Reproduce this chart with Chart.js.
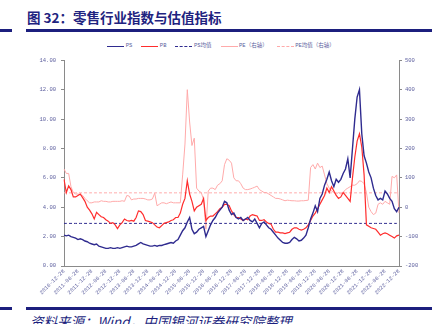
<!DOCTYPE html>
<html lang="zh">
<head>
<meta charset="UTF-8" />
<title>零售行业指数与估值指标</title>
<script src="https://cdn.jsdelivr.net/npm/chart.js"></script>
<style>
  html, body { margin: 0; padding: 0; background: #fff; }
  body { width: 442px; height: 324px; position: relative; overflow: hidden; }
  .title { position: absolute; left: 27px; top: 7px; font: bold 13.5px "Noto Sans CJK SC", sans-serif; color: #1f2380; white-space: nowrap; }
  .rule { position: absolute; height: 2.5px; background: #1c1f7e; }
  .source { position: absolute; left: 30px; top: 311px; font: italic 13.5px "Noto Sans CJK SC", sans-serif; color: #1c1f7e; white-space: nowrap; }
  #legend { position: absolute; left: 0; top: 42px; width: 442px; display: flex; justify-content: center;
            font: 5.5px "Liberation Mono", "Noto Sans CJK SC", monospace; color: #5d5f9e; line-height: 8px; }
  #legend .item { display: flex; align-items: center; margin: 0 4.5px; }
  #legend .sw { width: 17px; height: 0; margin-right: 1.5px; }
  #wrap { position: absolute; left: 0; top: 52px; width: 442px; height: 250px; }
</style>
</head>
<body>
<div class="title">图 32：零售行业指数与估值指标</div>
<div class="rule" style="left:0;width:12px;top:29px"></div>
<div class="rule" style="left:26px;width:406px;top:29px"></div>
<div id="legend"></div>
<div id="wrap"><canvas id="chart" width="442" height="250"></canvas></div>
<div class="rule" style="left:0;width:12px;top:307px"></div>
<div class="rule" style="left:26px;width:406px;top:307px"></div>
<div class="source">资料来源：Wind，中国银河证券研究院整理</div>

<script>
// month-end axis, 2010-12 .. 2022-12, labels on the 28th
const months = [];
for (let y = 2010, m = 12; months.length < 145; ) {
  months.push(`${y}-${String(m).padStart(2, '0')}-28`);
  if (++m > 12) { m = 1; y++; }
}

const tickLabels = [
  '2010-12-28', '2011-06-28', '2011-12-28', '2012-06-28', '2012-12-28',
  '2013-06-28', '2013-12-28', '2014-06-28', '2014-12-28', '2015-06-28',
  '2015-12-28', '2016-06-28', '2016-12-28', '2017-06-28', '2017-12-28',
  '2018-06-28', '2018-12-28', '2019-06-28', '2019-12-28', '2020-06-28',
  '2020-12-28', '2021-06-28', '2021-12-28', '2022-06-28', '2022-12-28'
];

// PS (left axis)
const ps = [
  2.1, 2.05, 2.1, 2.0, 1.95, 1.9, 1.8, 1.85, 1.8, 1.7, 1.65, 1.55,
  1.5, 1.45, 1.5, 1.35, 1.3, 1.25, 1.2, 1.2, 1.25, 1.2, 1.2, 1.25,
  1.2, 1.25, 1.3, 1.35, 1.3, 1.3, 1.35, 1.4, 1.5, 1.6, 1.5, 1.45,
  1.4, 1.35, 1.35, 1.4, 1.35, 1.4, 1.4, 1.45, 1.5, 1.55, 1.6, 1.55,
  1.7, 1.8, 2.1, 2.4, 2.6, 3.0, 3.3, 2.5, 2.2, 2.3, 2.5, 2.6,
  2.7, 2.0, 2.4, 2.8, 3.1, 3.3, 3.6, 3.8, 4.0, 4.4, 4.3, 3.8,
  3.5, 3.6, 3.3, 3.2, 3.3, 3.1, 3.2, 3.3, 3.1, 3.0, 3.2, 2.9,
  2.6, 2.9, 3.0, 2.8, 2.6, 2.5, 2.3, 2.1, 1.9, 1.75, 1.6, 1.55,
  1.55, 1.6, 1.8, 1.95, 1.85, 1.7, 1.75, 1.9, 2.1, 2.6, 3.2, 3.6,
  4.1, 3.7, 4.6, 4.9, 5.5, 5.9, 6.4, 5.8, 5.4, 5.9, 5.7, 5.9,
  6.3, 6.6, 7.3, 6.0, 8.0, 10.0, 11.5, 12.0, 9.0, 7.5, 7.0, 6.4,
  6.0, 5.3, 4.8, 4.5, 4.6, 4.5, 5.1, 4.9, 4.6, 4.4, 3.9, 3.7, 4.0
];

// PB (left axis)
const pb = [
  5.9, 5.0, 5.45, 5.2, 4.7, 4.7, 4.8, 4.9, 4.65, 4.4, 4.0, 3.8,
  3.55, 3.2, 3.65, 3.5, 3.35, 3.3, 3.15, 3.05, 2.9, 2.95, 2.8, 2.55,
  2.8, 2.95, 3.2, 3.1, 3.05, 3.1, 3.05, 3.3, 3.75, 3.7, 3.5, 3.1,
  3.05, 3.0, 2.95, 2.8, 2.65, 2.6, 2.75, 2.9, 2.95, 3.0, 3.1, 3.15,
  3.3, 3.3, 3.6, 4.2, 4.6, 5.8, 4.9, 4.4, 3.75, 4.0, 4.1, 4.2,
  4.6, 3.1, 3.3, 3.4, 3.4, 3.55, 3.7, 3.9, 4.0, 4.2, 4.2, 4.1,
  3.75, 3.5, 3.3, 3.3, 3.2, 3.1, 3.2, 3.15, 3.4, 3.5, 3.45, 3.4,
  3.1, 3.1, 3.15, 3.0, 2.9, 2.85, 2.5, 2.3, 2.3, 2.25, 2.25, 2.2,
  2.25, 2.3, 2.5, 2.6, 2.6, 2.5, 2.45, 2.5, 2.6, 2.8, 3.1, 3.4,
  3.6, 3.9, 4.2, 4.5, 4.8, 5.3, 5.0, 5.4, 5.1, 4.8, 4.6, 4.7,
  5.0, 4.8, 4.6, 4.4, 6.0, 7.4, 8.5, 9.0, 8.1, 6.2, 2.8, 2.7,
  2.6, 2.55, 2.5, 2.3, 2.1, 2.2, 2.25, 2.2, 2.1, 2.0, 1.9, 2.05, 2.1
];

// PE (right axis)
const pe = [
  130, 115, 115, 70, 50, 45, 45, 42, 40, 30, 22, 15,
  15, 18, 18, 18, 22, 20, 20, 18, 18, 20, 20, 20,
  20, 22, 20, 40, 38, 25, 28, 28, 30, 30, 30, 28,
  25, 25, 28, 48, 5, 10, 15, 15, 12, 15, 18, 15,
  15, 15, 15, 110, 215, 400, 290, 210, 235, 65, 55, 50,
  25, -75, 55, 65, 65, 60, 75, 80, 90, 145, 165, 160,
  150, 100, 90, 90, 80, 65, 60, 60, 62, 65, 68, 72,
  60, 55, 50, 50, 45, 40, 35, 30, 30, 28, 25, 22,
  24, 23, 22, 22, 21, 21, 22, 22, 23, 24, 135, 145,
  130, 150, 135, 140, 110, 80, 65, 55, 50, 45, 50, 45,
  50, 60, 65, 70, 75, 75, 80, 90, 88, 80, 50, 0,
  -15, -25, -20, 10, 15, 10, 20, 15, 10, 105, 100, 110, -20
];

const psMean = 2.9;   // PS均值
const peMean = 49;    // PE均值（右轴）

const NAVY = '#2f2b8f';
const RED = '#ff2d2d';
const PINK = '#ffaaaa';
const TICK = '#5d5f9e';
const AXIS = '#8a8a8a';

const series = [
  { label: 'PS', data: ps, color: NAVY, width: 1.4, dash: [], axis: 'y' },
  { label: 'PB', data: pb, color: RED, width: 1.2, dash: [], axis: 'y' },
  { label: 'PS均值', data: months.map(() => psMean), color: NAVY, width: 1, dash: [3, 2], axis: 'y' },
  { label: 'PE（右轴）', data: pe, color: PINK, width: 1, dash: [], axis: 'y1' },
  { label: 'PE均值（右轴）', data: months.map(() => peMean), color: PINK, width: 1, dash: [3, 2], axis: 'y1' }
];

// legend
const legend = document.getElementById('legend');
series.forEach(s => {
  const item = document.createElement('div');
  item.className = 'item';
  const sw = document.createElement('span');
  sw.className = 'sw';
  sw.style.borderTop = `${s.dash.length ? 1 : 1.5}px ${s.dash.length ? 'dashed' : 'solid'} ${s.color}`;
  const txt = document.createElement('span');
  txt.textContent = s.label;
  item.appendChild(sw);
  item.appendChild(txt);
  legend.appendChild(item);
});

Chart.defaults.font.family = "'Liberation Mono', 'Noto Sans CJK SC', monospace";
Chart.defaults.font.size = 5.5;
Chart.defaults.color = TICK;

new Chart(document.getElementById('chart'), {
  type: 'line',
  data: {
    labels: months,
    datasets: series.map(s => ({
      label: s.label,
      data: s.data,
      borderColor: s.color,
      borderWidth: s.width,
      borderDash: s.dash,
      pointRadius: 0,
      tension: 0,
      fill: false,
      yAxisID: s.axis
    }))
  },
  options: {
    responsive: false,
    animation: false,
    devicePixelRatio: 1,
    layout: { padding: { top: 6, right: 0, bottom: 0, left: 0 } },
    plugins: { legend: { display: false }, tooltip: { enabled: false } },
    scales: {
      x: {
        grid: { display: false, drawTicks: false },
        border: { display: true, color: AXIS, width: 1 },
        ticks: {
          autoSkip: false,
          minRotation: 45,
          maxRotation: 45,
          padding: 2,
          callback: (v, i) => tickLabels.includes(months[i]) ? months[i] : ''
        },
        afterFit: s => { s.height = 36; }
      },
      y: {
        position: 'left',
        min: 0, max: 14,
        grid: { drawOnChartArea: false, drawTicks: true, tickLength: 3, color: AXIS },
        border: { display: true, color: AXIS, width: 1 },
        ticks: { stepSize: 2, padding: 5, callback: v => v.toFixed(2) },
        afterFit: s => { s.width = 64; }
      },
      y1: {
        position: 'right',
        min: -200, max: 500,
        grid: { drawOnChartArea: false, drawTicks: true, tickLength: 3, color: AXIS },
        border: { display: true, color: AXIS, width: 1 },
        ticks: { stepSize: 100, padding: 3 },
        afterFit: s => { s.width = 43; }
      }
    }
  }
});
</script>
</body>
</html>
